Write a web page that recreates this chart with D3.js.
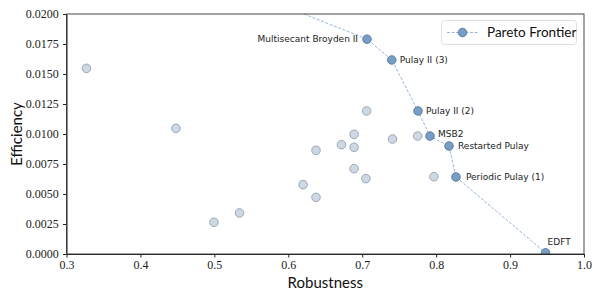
<!DOCTYPE html>
<html>
<head>
<meta charset="utf-8">
<script src="https://cdn.jsdelivr.net/npm/d3@7"></script>
<style>
  body { margin: 0; background: #fff; }
  .label { font-family: "Lato", "DejaVu Sans", sans-serif; font-size: 15px; fill: #111; }
  .ann { font-family: "DejaVu Sans", sans-serif; font-size: 9px; fill: #222; }
</style>
</head>
<body>
<svg id="chart" width="600" height="300"></svg>
<script>
// all methods (not on frontier)
let otherX = [0.327, 0.448, 0.4995, 0.534, 0.620, 0.6375, 0.6375, 0.672, 0.689, 0.689, 0.689, 0.706, 0.705, 0.741, 0.775, 0.797]
let otherY = [0.01547, 0.01047, 0.00264, 0.00342, 0.00578, 0.00864, 0.00472, 0.00911, 0.00997, 0.00889, 0.00711, 0.01192, 0.00628, 0.00958, 0.00983, 0.00644]

// pareto frontier (first point lies above the visible range)
let frontNames = ["", "Multisecant Broyden II", "Pulay II (3)", "Pulay II (2)", "MSB2", "Restarted Pulay", "Periodic Pulay (1)", "EDFT"]
let frontX = [0.50, 0.7065, 0.740, 0.7755, 0.7917, 0.8174, 0.8268, 0.948]
let frontY = [0.0230, 0.0179, 0.01617, 0.01192, 0.00983, 0.0090, 0.00642, 0.0001]

let xTicks = [0.3, 0.4, 0.5, 0.6, 0.7, 0.8, 0.9, 1.0]
let yTicks = [0, 0.0025, 0.005, 0.0075, 0.01, 0.0125, 0.015, 0.0175, 0.02]

let mLeft = 66.5, mRight = 584, mTop = 14, mBottom = 254

let xScale = d3.scaleLinear().domain([0.3, 1.0]).range([mLeft, mRight])
let yScale = d3.scaleLinear().domain([0, 0.02]).range([mBottom, mTop])

let svg = d3.select("#chart")

svg.append("defs").append("clipPath").attr("id", "clip")
    .append("rect").attr("x", mLeft).attr("y", mTop)
    .attr("width", mRight - mLeft).attr("height", mBottom - mTop)

let plot = svg.append("g").attr("clip-path", "url(#clip)")

let others = otherX.map(function (x, i) { return {x: x, y: otherY[i]} })
let front = frontX.map(function (x, i) { return {x: x, y: frontY[i], name: frontNames[i]} })

plot.selectAll(".other").data(others).enter().append("circle")
    .attr("class", "other")
    .attr("cx", function (d) { return xScale(d.x) })
    .attr("cy", function (d) { return yScale(d.y) })
    .attr("r", 4.3)
    .attr("fill", "#cdd8e4")
    .attr("stroke", "#8b97a4")
    .attr("stroke-width", 0.8)

let line = d3.line().x(function (d) { return xScale(d.x) }).y(function (d) { return yScale(d.y) })

plot.append("path").datum(front)
    .attr("d", line)
    .attr("fill", "none")
    .attr("stroke", "#8aaed6")
    .attr("stroke-width", 0.9)
    .attr("stroke-dasharray", "3,1.6")

plot.selectAll(".front").data(front).enter().append("circle")
    .attr("class", "front")
    .attr("cx", function (d) { return xScale(d.x) })
    .attr("cy", function (d) { return yScale(d.y) })
    .attr("r", 4.3)
    .attr("fill", "#789ec6")
    .attr("stroke", "#4d6e92")
    .attr("stroke-width", 0.8)

// annotations
let offs = {
    "Multisecant Broyden II": [-9, 0, "end"],
    "Pulay II (3)": [8, 0, "start"],
    "Pulay II (2)": [8, 0, "start"],
    "MSB2": [8, -2, "start"],
    "Restarted Pulay": [9, 0, "start"],
    "Periodic Pulay (1)": [10, 0, "start"],
    "EDFT": [2, -11, "start"]
}
svg.selectAll(".ann").data(front.filter(function (d) { return d.name !== "" })).enter().append("text")
    .attr("class", "ann")
    .attr("x", function (d) { return xScale(d.x) + offs[d.name][0] })
    .attr("y", function (d) { return yScale(d.y) + offs[d.name][1] })
    .attr("dy", "0.35em")
    .attr("text-anchor", function (d) { return offs[d.name][2] })
    .text(function (d) { return d.name })

// axes
let x_axis = d3.axisBottom(xScale).tickValues(xTicks).tickFormat(d3.format(".1f")).tickSize(3.5).tickSizeOuter(0)
let y_axis = d3.axisLeft(yScale).tickValues(yTicks).tickFormat(d3.format(".4f")).tickSize(3.5).tickSizeOuter(0)

let gx = svg.append("g").attr("transform", `translate(0,${mBottom})`).call(x_axis)
let gy = svg.append("g").attr("transform", `translate(${mLeft},0)`).call(y_axis)
gy.selectAll("text").attr("dx", "-0.1em")
svg.selectAll(".tick text")
    .style("font-family", "'Liberation Serif', 'DejaVu Serif', serif")
    .style("font-size", "12px")
    .attr("fill", "#222")
svg.selectAll(".domain").attr("stroke", "#222")
svg.selectAll(".tick line").attr("stroke", "#222")

// frame
svg.append("rect").attr("x", mLeft).attr("y", mTop)
    .attr("width", mRight - mLeft).attr("height", mBottom - mTop)
    .attr("fill", "none").attr("stroke", "#333").attr("stroke-width", 0.9)

svg.append("text").attr("class", "label")
    .attr("x", (mLeft + mRight) / 2).attr("y", 288)
    .attr("text-anchor", "middle").text("Robustness")

svg.append("text").attr("class", "label")
    .attr("transform", `translate(22,${(mTop + mBottom) / 2}) rotate(-90)`)
    .attr("text-anchor", "middle").text("Efficiency")

// legend
let lg = svg.append("g")
lg.append("rect").attr("x", 441.5).attr("y", 20.5).attr("width", 135).attr("height", 24)
    .attr("rx", 3).attr("fill", "#fff").attr("stroke", "#ddd").attr("stroke-width", 0.9)
lg.append("line").attr("x1", 447).attr("x2", 478).attr("y1", 32.5).attr("y2", 32.5)
    .attr("stroke", "#8aaed6").attr("stroke-width", 0.9).attr("stroke-dasharray", "3,1.6")
lg.append("circle").attr("cx", 462.5).attr("cy", 32.5).attr("r", 4.3)
    .attr("fill", "#789ec6").attr("stroke", "#4d6e92").attr("stroke-width", 0.8)
lg.append("text").attr("x", 487).attr("y", 32.5).attr("dy", "0.35em")
    .style("font-family", "Lato, 'DejaVu Sans', sans-serif").style("font-size", "13.5px").attr("fill", "#111")
    .text("Pareto Frontier")
</script>
</body>
</html>
